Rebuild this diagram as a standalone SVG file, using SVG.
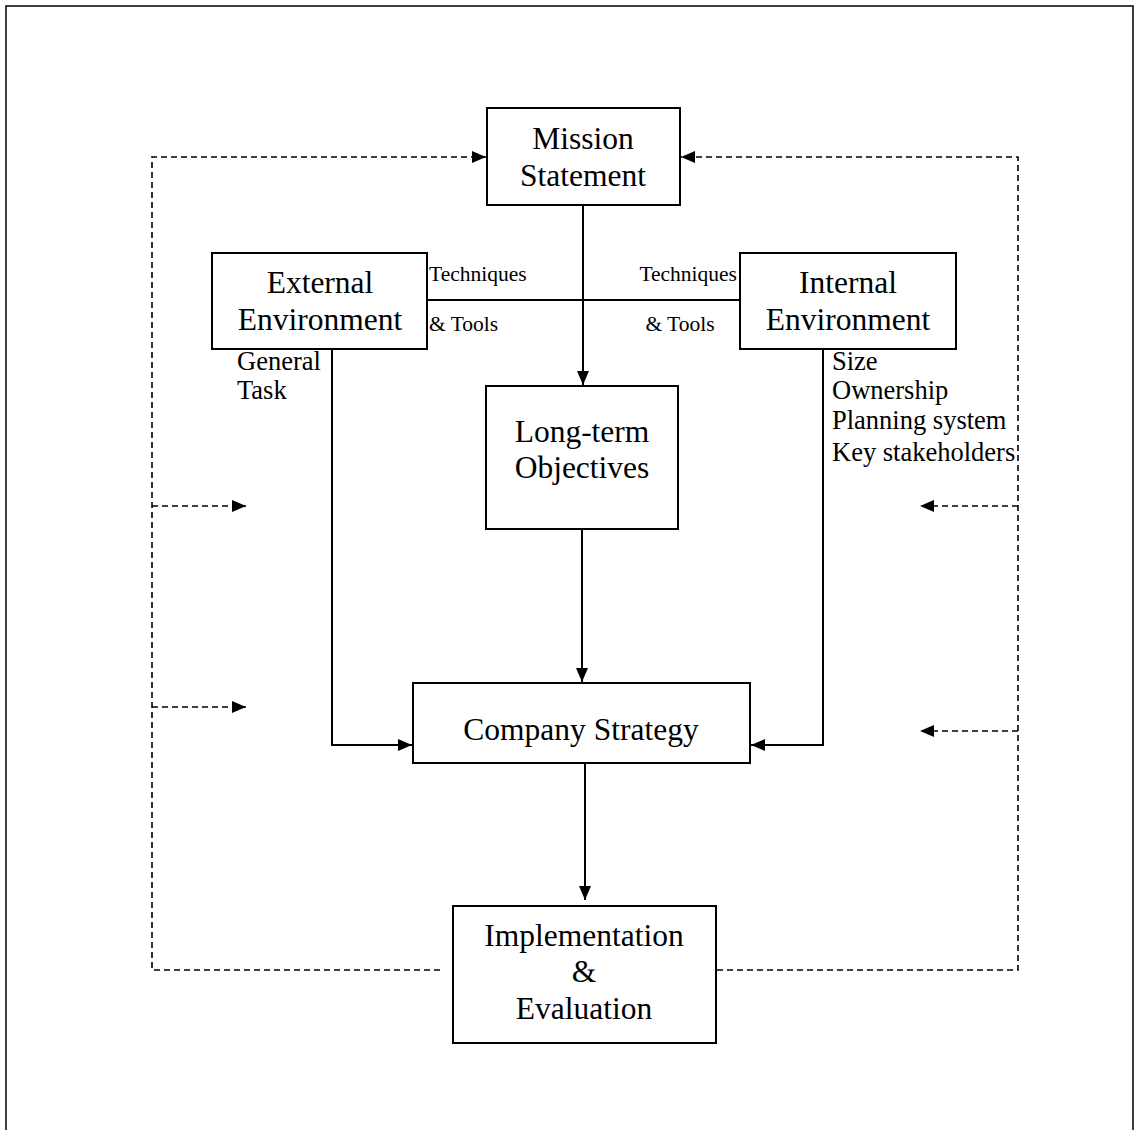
<svg xmlns="http://www.w3.org/2000/svg" width="1134" height="1130" viewBox="0 0 1134 1130">
  <style>
    .box { fill: #fff; stroke: #000; stroke-width: 2; }
    .t { font-family: "Liberation Serif", "Times New Roman", serif; fill: #000; }
    .big { font-size: 31.5px; text-anchor: middle; }
    .mid { font-size: 26.5px; }
    .small { font-size: 21.5px; }
    .solid { fill: none; stroke: #000; stroke-width: 2; }
    .dash { fill: none; stroke: #000; stroke-width: 1.6; stroke-dasharray: 6 4; }
  </style>
  <defs>
    <marker id="arrow" viewBox="0 0 14 12" refX="14" refY="6" markerWidth="14" markerHeight="12" markerUnits="userSpaceOnUse" orient="auto">
      <path d="M0,0 L14,6 L0,12 Z" fill="#000"/>
    </marker>
  </defs>

  <rect x="0" y="0" width="1134" height="1130" fill="#fff"/>
  <!-- page frame -->
  <path d="M6,1131 V6 H1133 V1131" fill="none" stroke="#000" stroke-width="1.5"/>

  <g id="connectors">
    <!-- solid flow -->
    <line class="solid" x1="583" y1="205" x2="583" y2="385" marker-end="url(#arrow)"/>
    <line class="solid" x1="427" y1="300" x2="740" y2="300"/>
    <line class="solid" x1="582" y1="529" x2="582" y2="682" marker-end="url(#arrow)"/>
    <polyline class="solid" points="332,349 332,745 412,745" marker-end="url(#arrow)"/>
    <polyline class="solid" points="823,349 823,745 751,745" marker-end="url(#arrow)"/>
    <line class="solid" x1="585" y1="763" x2="585" y2="900" marker-end="url(#arrow)"/>
    <!-- feedback loop -->
    <polyline class="dash" points="440,970 152,970 152,157 486,157" marker-end="url(#arrow)"/>
    <polyline class="dash" points="717,970 1018,970 1018,157 681,157" marker-end="url(#arrow)"/>
    <line class="dash" x1="152" y1="506" x2="246" y2="506" marker-end="url(#arrow)"/>
    <line class="dash" x1="152" y1="707" x2="246" y2="707" marker-end="url(#arrow)"/>
    <line class="dash" x1="1018" y1="506" x2="920" y2="506" marker-end="url(#arrow)"/>
    <line class="dash" x1="1018" y1="731" x2="920" y2="731" marker-end="url(#arrow)"/>
  </g>

  <g id="mission">
    <rect class="box" x="487" y="108" width="193" height="97"/>
    <text class="t big" x="583" y="149">Mission</text>
    <text class="t big" x="583" y="186">Statement</text>
  </g>

  <g id="external">
    <rect class="box" x="212" y="253" width="215" height="96"/>
    <text class="t big" x="320" y="293">External</text>
    <text class="t big" x="320" y="330">Environment</text>
    <text class="t mid" x="237" y="370">General</text>
    <text class="t mid" x="237" y="399">Task</text>
  </g>

  <g id="internal">
    <rect class="box" x="740" y="253" width="216" height="96"/>
    <text class="t big" x="848" y="293">Internal</text>
    <text class="t big" x="848" y="330">Environment</text>
    <text class="t mid" x="832" y="370">Size</text>
    <text class="t mid" x="832" y="399">Ownership</text>
    <text class="t mid" x="832" y="429">Planning system</text>
    <text class="t mid" x="832" y="461">Key stakeholders</text>
  </g>

  <g id="tools-labels">
    <text class="t small" x="429" y="281">Techniques</text>
    <text class="t small" x="429" y="331">&amp; Tools</text>
    <text class="t small" x="737" y="281" text-anchor="end">Techniques</text>
    <text class="t small" x="680" y="331" text-anchor="middle">&amp; Tools</text>
  </g>

  <g id="objectives">
    <rect class="box" x="486" y="386" width="192" height="143"/>
    <text class="t big" x="582" y="442">Long-term</text>
    <text class="t big" x="582" y="478">Objectives</text>
  </g>

  <g id="strategy">
    <rect class="box" x="413" y="683" width="337" height="80"/>
    <text class="t big" x="581" y="740">Company Strategy</text>
  </g>

  <g id="implementation">
    <rect class="box" x="453" y="906" width="263" height="137"/>
    <text class="t big" x="584" y="946">Implementation</text>
    <text class="t big" x="584" y="982">&amp;</text>
    <text class="t big" x="584" y="1019">Evaluation</text>
  </g>
</svg>
